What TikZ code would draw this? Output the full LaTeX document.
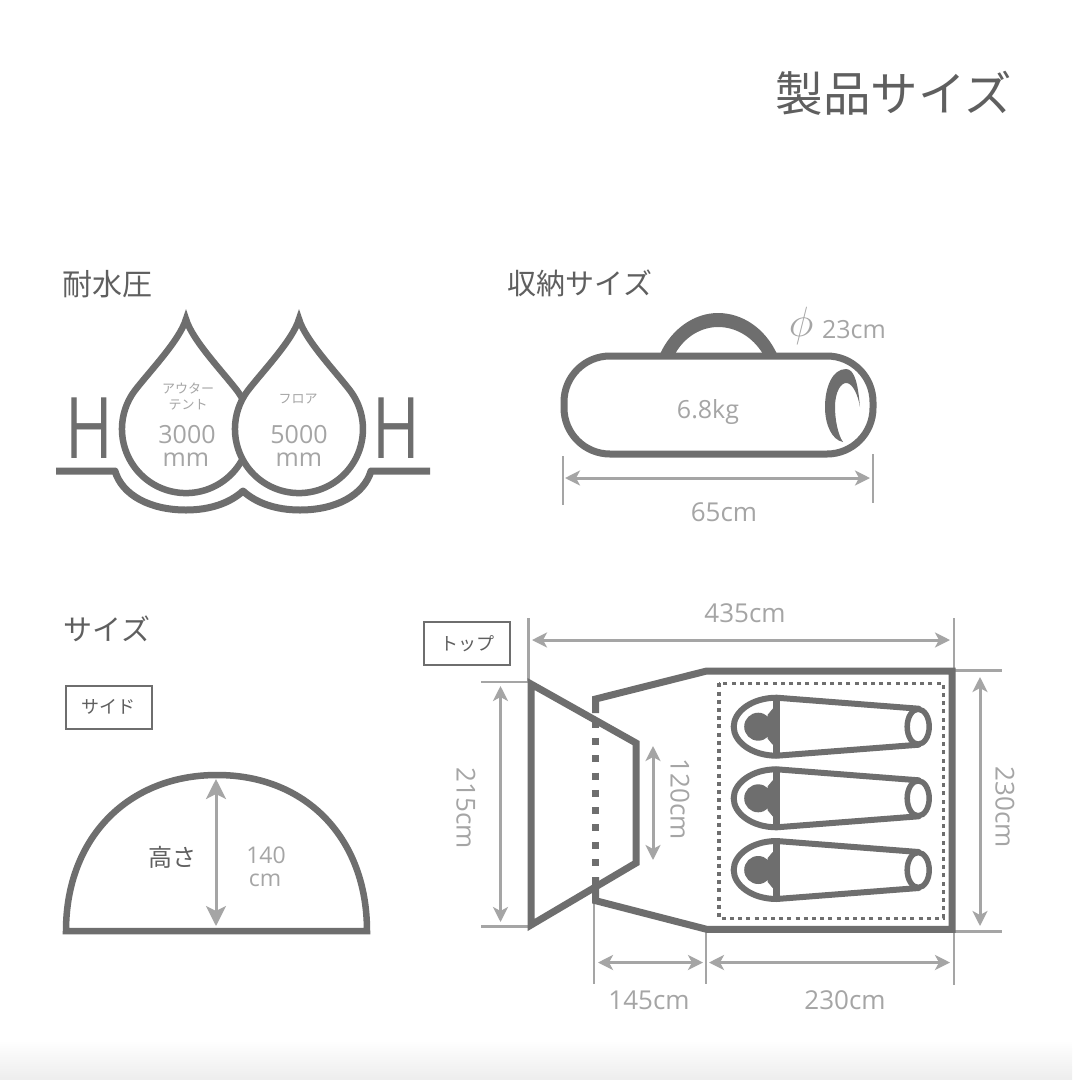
\documentclass[tikz,border=0pt]{standalone}
\usepackage{fontspec}
\setmainfont{Open Sans}
\newfontfamily\jpfont{Noto Sans CJK JP}
\usetikzlibrary{
    arrows.meta,
    positioning
}
\definecolor{tentdark}{RGB}{110,110,110}
\definecolor{dimgray}{RGB}{165,165,165}
\definecolor{headgray}{RGB}{95,95,95}
\newcommand{\sz}[1]{\fontsize{#1}{#1}\selectfont}
\tikzset{
    % Text styles
    heading/.style={
        text=headgray,
        inner sep=0pt,
        font=\jpfont\sz{#1}
    },
    dim label/.style={
        text=dimgray,
        inner sep=0pt,
        font=\sz{#1}
    },
    drop label/.style={
        text=dimgray,
        inner sep=0pt,
        font=\jpfont\sz{13}
    },
    level mark/.style={
        text=tentdark,
        inner sep=0pt,
        xscale=.76,
        font=\sz{85}
    },
    tag box/.style={
        draw=tentdark,
        line width=2pt,
        text=headgray,
        minimum width=86pt,
        minimum height=43pt,
        inner sep=0pt,
        font=\jpfont\sz{18}
    },
    % Line styles
    tent line/.style={
        draw=tentdark,
        line width=7pt,
        miter limit=10
    },
    dim line/.style={
        draw=dimgray,
        line width=2.6pt
    },
    dim arrow/.style={
        draw=dimgray,
        line width=3pt,
        {Stealth[length=15pt,width=15pt,inset=4pt]}-{Stealth[length=15pt,width=15pt,inset=4pt]}
    },
    big arrow/.style={
        draw=dimgray,
        line width=3pt,
        {Stealth[length=20pt,width=20pt,inset=5pt]}-{Stealth[length=20pt,width=20pt,inset=5pt]}
    },
    % Pictures
    water drop/.pic={
        \draw[tent line, line width=6.5pt, fill=white, line join=miter]
            (0,9) .. controls (6,30) and (37,62) .. (51.4,81)
            arc[start angle=-36.5, end angle=216.5, radius=64]
            .. controls (-37,62) and (-6,30) .. cycle;
    },
    sleeping bag/.pic={
        \draw[tentdark, line width=6pt, fill=white, line join=round]
            (0,-29) -- (142,-18) -- (142,18) -- (0,29) -- cycle;
        \draw[tentdark, line width=6pt, fill=white]
            (0,-29) .. controls (-25,-29) and (-43,-15) .. (-43,0)
            .. controls (-43,15) and (-25,29) .. (0,29);
        \fill[tentdark] (-18.5,0) circle[radius=14];
        \fill[tentdark] (-9,-12) -- (-4,-18) -- (0,-18) -- (0,18) -- (-4,18) -- (-9,12) -- cycle;
        \draw[tentdark, line width=6.5pt] (0,-30) -- (0,30);
        \draw[tentdark, line width=5.5pt, fill=white] (141.5,0) ellipse[x radius=11, y radius=17.5];
    }
}
\begin{document}
\begin{tikzpicture}[x=1pt, y=-1pt]
        \useasboundingbox (0,0) rectangle (1072,1080);
        \fill[white] (0,0) rectangle (1072,1040);
        \shade[top color=white, bottom color=black!7] (0,1040) rectangle (1072,1080);

        % Headings
        \node[heading=47.5] (title) at (894,93) {製品サイズ};
        \node[heading=30] (water) at (107,284) {耐水圧};
        \node[heading=29] (pack) at (580,283) {収納サイズ};
        \node[heading=29] (size) at (107,629) {サイズ};

        % Water pressure
        \draw[tent line, line join=round]
            (56,471) -- (115,471) .. controls (122,495) and (150,510) .. (186,510)
            .. controls (210,510) and (230,503) .. (243,491)
            .. controls (256,503) and (276,510) .. (300,510)
            .. controls (336,510) and (364,495) .. (371,471) -- (430,471);
        \pic at (186,310) {water drop};
        \pic at (299,310) {water drop};
        \node[level mark] (hleft) at (89,428) {H};
        \node[level mark] (hright) at (396,428) {H};
        \node[drop label] (outer) at (188,388) {アウター};
        \node[drop label] (tent) at (188,405) {テント};
        \node[dim label=25] (outerval) at (187,435) {3000};
        \node[dim label=25] (outermm) at (186,460) {mm};
        \node[drop label] (floor) at (298,399) {フロア};
        \node[dim label=25] (floorval) at (299,435) {5000};
        \node[dim label=25] (floormm) at (299,460) {mm};

        % Packed bag
        \fill[tentdark] (660,354) .. controls (672,328) and (695,313) .. (718,313)
            .. controls (742,313) and (765,328) .. (777,354) -- (763,354)
            .. controls (752,336) and (735,327) .. (718,327)
            .. controls (702,327) and (685,336) .. (675,354) -- cycle;
        \draw[tent line, rounded corners=46pt] (564,356) rectangle (873,454);
        \fill[tentdark] (860,407) .. controls (858,385) and (855,369) .. (846,369)
            .. controls (832,369) and (825,388) .. (825,407)
            .. controls (825,425) and (832,440) .. (843,442)
            .. controls (838,435) and (835,420) .. (835,407)
            .. controls (835,392) and (841,382) .. (847,383)
            .. controls (853,384) and (858,395) .. cycle;
        \node[dim label=25, scale=1.7] (phi) at (801,326) {$\phi$};
        \node[dim label=25] (dia) at (854,330) {23cm};
        \node[dim label=25] (weight) at (708,412) {6.8kg};
        \draw[dim line] (563,456) -- (563,505);
        \draw[dim line] (873,454) -- (873,503);
        \draw[dim arrow] (565,478) -- (870,478);
        \node[dim label=26] (length) at (724,512) {65cm};

        % Side view
        \node[tag box] (side) at (108.5,707) {サイド};
        \draw[tent line, line width=6.5pt, line join=miter] (66,931) .. controls (66,838) and (128,775) .. (217,775)
            .. controls (306,775) and (367,838) .. (367,931) -- cycle;
        \draw[big arrow] (216,779) -- (216,926);
        \node[heading=24] (height) at (172,857) {高さ};
        \node[dim label=23] (heightval) at (266,855) {140};
        \node[dim label=23] (heightcm) at (265,880) {cm};

        % Top view
        \node[tag box] (top) at (467,643.5) {トップ};
        \draw[dim line] (528.5,618) -- (528.5,682);
        \draw[dim line] (954,618) -- (954,985);
        \draw[dim line] (481,682) -- (530,682);
        \draw[dim line] (481,926.5) -- (530,926.5);
        \draw[dim line] (953,670.5) -- (1002,670.5);
        \draw[dim line] (953,931.5) -- (1002,931.5);
        \draw[dim line] (594,900) -- (594,984);
        \draw[dim line] (706,932) -- (706,984);
        \draw[dim arrow] (532,640) -- (950,640);
        \draw[dim arrow] (500.5,686) -- (500.5,922);
        \draw[dim arrow] (653,746) -- (653,860);
        \draw[dim arrow] (980,677) -- (980,926);
        \draw[dim arrow] (598,962.5) -- (703,962.5);
        \draw[dim arrow] (709,962.5) -- (950,962.5);
        \draw[tent line] (531,684) -- (636,743) -- (636,863) -- (531,925) -- cycle;
        \draw[tent line] (595.7,713) -- (595.7,699) -- (706.7,671) -- (952,671) -- (952,929.3)
            -- (706.7,929.3) -- (595.7,900.7) -- (595.7,877);
        \draw[tent line, dash pattern=on 7pt off 10.33pt] (595.7,720.5) -- (595.7,867);
        \draw[tentdark, line width=3.5pt, dash pattern=on 4pt off 4.2pt] (719,683.3) rectangle (943.3,918.3);
        \foreach \y in {726.7,798.3,870}
            \pic at (776.7,\y) {sleeping bag};
        \node[dim label=26] (total) at (745,613) {435cm};
        \node[dim label=26, rotate=-90] (wfront) at (466,808) {215cm};
        \node[dim label=26, rotate=-90] (wdoor) at (680,799) {120cm};
        \node[dim label=26, rotate=-90] (wback) at (1005,807) {230cm};
        \node[dim label=26] (lfront) at (649,1000) {145cm};
        \node[dim label=26] (lback) at (845,1000) {230cm};
    \end{tikzpicture}
\end{document}
